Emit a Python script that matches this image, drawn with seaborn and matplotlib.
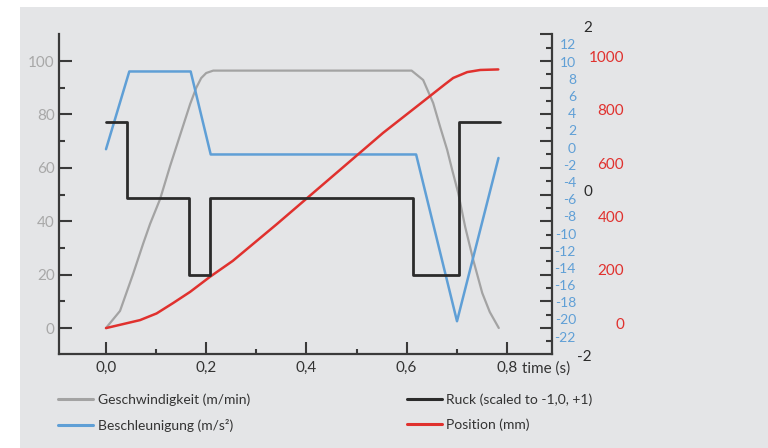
import numpy as np
import pandas as pd
import matplotlib
matplotlib.use("Agg")
import matplotlib.pyplot as plt
import seaborn as sns
from matplotlib.patches import Rectangle
from matplotlib.lines import Line2D
from matplotlib.ticker import FixedLocator
from matplotlib.transforms import blended_transform_factory

# ── data ─────────────────────────────────────────────────────────
# Geschwindigkeit (m/min), left axis
t_speed = [0.0, 0.028, 0.054, 0.074, 0.088, 0.108, 0.128, 0.148, 0.168, 0.180,
           0.190, 0.200, 0.214, 0.610, 0.633, 0.653, 0.667, 0.681, 0.691, 0.703,
           0.717, 0.733, 0.751, 0.766, 0.784]
speed = [0.0, 6.4, 20.2, 31.5, 39.0, 48.3, 60.7, 72.3, 83.9, 89.9,
         93.6, 95.5, 96.4, 96.4, 92.9, 84.3, 75.3, 66.7, 59.2, 50.6,
         37.8, 25.5, 13.1, 6.0, 0.0]

# Beschleunigung (m/s²), blue axis
t_acc = [0.0, 0.0465, 0.169, 0.209, 0.619, 0.7006, 0.7834]
acc = [-0.2, 8.84, 8.84, -0.81, -0.81, -20.2, -1.22]

# Ruck (scaled), black axis, step values
t_jerk = [0.0, 0.0413, 0.1663, 0.2076, 0.6128, 0.7046, 0.787]
jerk = [0.83, -0.09, -1.03, -0.09, -1.03, 0.83, 0.83]

# Position (mm), red axis
t_pos = [0.0, 0.034, 0.068, 0.101, 0.134, 0.168, 0.208, 0.253, 0.341, 0.553,
         0.627, 0.677, 0.693, 0.721, 0.747, 0.783]
pos = [-18, -3, 12, 37, 76, 118, 175, 234, 372, 714,
       823, 897, 920, 942, 950, 952]

x_ticks = [0.0, 0.2, 0.4, 0.6, 0.8]
x_labels = ["0,0", "0,2", "0,4", "0,6", "0,8"]
speed_ticks = [0, 20, 40, 60, 80, 100]
acc_ticks = list(range(-22, 13, 2))
pos_ticks = [0, 200, 400, 600, 800, 1000]
jerk_ticks = [-2, 0, 2]

GRAY = "#a3a3a3"; BLUE = "#5f9fd6"; BLACK = "#2b2b2b"; RED = "#e0312e"
PANEL = "#e4e5e7"; AXC = "#3a3a3a"

W, H = 768, 448
def fx(px): return px / W
def fy(py): return 1 - py / H
def lims(zero_px, ppu, top_px, bot_px):
    return ((zero_px - bot_px) / ppu, (zero_px - top_px) / ppu)

sns.set_style("ticks")
plt.rcParams["font.family"] = ["Lato", "DejaVu Sans"]
plt.rcParams["axes.unicode_minus"] = False

fig = plt.figure(figsize=(7.68, 4.48), dpi=100, facecolor="white")
fig.add_artist(Rectangle((fx(20), 0), 1 - fx(20), fy(7), transform=fig.transFigure,
                         facecolor=PANEL, edgecolor="none", zorder=-5))

L, R, T, B = 59, 552, 34, 354
ax = fig.add_axes([fx(L), fy(B), (R - L) / W, (B - T) / H])
ax.set_facecolor("none")
ax.set_xlim((L - 106) / 501, (R - 106) / 501)
ax.set_ylim(lims(328, 2.67, T, B))

# twin for right-side tick marks (same scale as left)
ax_r = ax.twinx()
ax_r.set_ylim(ax.get_ylim())
# blue, red axes for labels only
ax_b = ax.twinx(); ax_b.set_ylim(lims(147.5, 8.6, T, B))
ax_p = ax.twinx(); ax_p.set_ylim(lims(323.3, 0.26667, T, B))
# black axis is a little taller so its "2" label fits
ax_k = fig.add_axes([fx(L), fy(360), (R - L) / W, (360 - 20) / H], sharex=ax)
ax_k.set_ylim(lims(190.5, 82.25, 20, 360))

for a in (ax_r, ax_b, ax_p, ax_k):
    a.set_facecolor("none")
    for s in a.spines.values():
        s.set_visible(False)

# lines
sns.lineplot(x=t_speed, y=speed, ax=ax, color=GRAY, linewidth=1.6, sort=False, estimator=None)
sns.lineplot(x=t_acc, y=acc, ax=ax_b, color=BLUE, linewidth=1.8, sort=False, estimator=None)
sns.lineplot(x=t_jerk, y=jerk, ax=ax_k, color=BLACK, linewidth=2.0, sort=False,
             estimator=None, drawstyle="steps-post")
sns.lineplot(x=t_pos, y=pos, ax=ax_p, color=RED, linewidth=1.8, sort=False, estimator=None)

# spines
ax.spines["top"].set_visible(False)
ax.spines["right"].set_visible(False)
for s in ("left", "bottom"):
    ax.spines[s].set_color(AXC); ax.spines[s].set_linewidth(1.6)
ax_r.spines["right"].set_visible(True)
ax_r.spines["right"].set_color(AXC); ax_r.spines["right"].set_linewidth(1.6)

# x ticks
ax.xaxis.set_major_locator(FixedLocator(x_ticks))
ax.xaxis.set_minor_locator(FixedLocator([0.1, 0.3, 0.5, 0.7]))
ax.set_xticklabels(x_labels)
ax.tick_params(axis="x", which="major", direction="in", length=8.6, width=1.5,
               color=AXC, labelsize=11, labelcolor="#333333", pad=5)
ax.tick_params(axis="x", which="minor", direction="in", length=3.6, width=1.5, color=AXC)

# left ticks
ax.yaxis.set_major_locator(FixedLocator(speed_ticks))
ax.yaxis.set_minor_locator(FixedLocator([10, 30, 50, 70, 90]))
ax.tick_params(axis="y", which="major", direction="in", length=9.4, width=1.5,
               color=AXC, labelsize=11, labelcolor="#a8a8a8", pad=3)
ax.tick_params(axis="y", which="minor", direction="in", length=4.3, width=1.5, color=AXC)
ax.set_xlabel(""); ax.set_ylabel("")

# right tick marks
ax_r.yaxis.set_major_locator(FixedLocator(list(range(0, 111, 10))))
ax_r.yaxis.set_minor_locator(FixedLocator(list(range(-5, 110, 10))))
ax_r.tick_params(axis="y", which="major", direction="in", length=8.6, width=1.5,
                 color=AXC, labelright=False)
ax_r.tick_params(axis="y", which="minor", direction="in", length=4.3, width=1.5,
                 color=AXC, labelright=False)

# label-only axes on the right
for a, ticks, col, size, pad_px in ((ax_b, acc_ticks, BLUE, 10, 24),
                                    (ax_p, pos_ticks, RED, 11, 72),
                                    (ax_k, jerk_ticks, BLACK, 11, 40)):
    a.yaxis.set_major_locator(FixedLocator(ticks))
    a.yaxis.set_ticks_position("right")
    a.tick_params(axis="y", which="both", length=0, labelsize=size, labelcolor=col,
                  pad=pad_px * 0.72, labelright=True, labelleft=False)
    a.tick_params(axis="x", which="both", bottom=False, labelbottom=False)
    a.set_ylabel("")
    for lbl in a.get_yticklabels():
        lbl.set_horizontalalignment("right")
ax_k.set_xlabel("")

ax.text(0.830, -0.047, "time (s)", transform=blended_transform_factory(ax.transData, ax.transAxes),
        ha="left", va="center", fontsize=11, color="#333333")

handles = [Line2D([], [], color=GRAY, lw=2.2), Line2D([], [], color=BLUE, lw=2.2),
           Line2D([], [], color=BLACK, lw=2.2), Line2D([], [], color=RED, lw=2.2)]
labels = ["Geschwindigkeit (m/min)", "Beschleunigung (m/s²)",
          "Ruck (scaled to -1,0, +1)", "Position (mm)"]
fig.legend(handles, labels, ncol=2, loc="upper left", bbox_to_anchor=(fx(58), fy(393)),
           frameon=False, fontsize=10, handlelength=2.5, handletextpad=0.35,
           columnspacing=11.3, labelspacing=0.95, borderpad=0, borderaxespad=0,
           labelcolor="#333333")

fig.savefig("out.png", dpi=100, facecolor="white")
